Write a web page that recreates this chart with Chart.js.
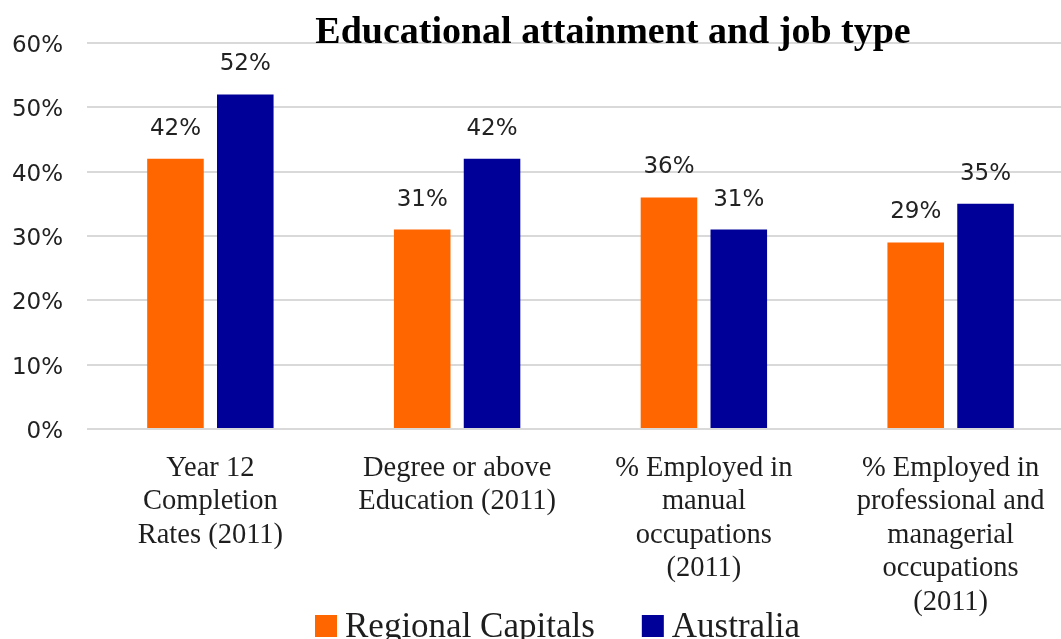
<!DOCTYPE html>
<html><head><meta charset="utf-8">
<script src="https://cdn.jsdelivr.net/npm/chart.js@4"></script>
<style>html,body{margin:0;padding:0;background:#fff;overflow:hidden}
#wrap{position:relative;width:1075px;height:639px}</style></head>
<body><div id="wrap"><canvas id="c" width="1075" height="639"></canvas></div>
<script>
const categories = [
  ["Year 12", "Completion", "Rates (2011)"],
  ["Degree or above", "Education (2011)"],
  ["% Employed in", "manual", "occupations", "(2011)"],
  ["% Employed in", "professional and", "managerial", "occupations", "(2011)"]
];
const seriesNames = ["Regional Capitals", "Australia"];
const regionalCapitals = [42, 31, 36, 29];
const australia = [52, 42, 31, 35];
const yTicks = [0, 10, 20, 30, 40, 50, 60];
const titleText = "Educational attainment and job type";

const SERIF = '"Liberation Serif", "Times New Roman", serif';
const SANS = '"DejaVu Sans", Verdana, sans-serif';
const seriesColors = ["#FF6600", "#000099"];

const decorations = {
  id: 'decorations',
  afterDatasetsDraw(chart) {
    const ctx = chart.ctx;
    ctx.save();
    ctx.font = '23px ' + SANS;
    ctx.fillStyle = '#222222';
    ctx.textAlign = 'center';
    ctx.textBaseline = 'alphabetic';
    chart.data.datasets.forEach((ds, di) => {
      const meta = chart.getDatasetMeta(di);
      meta.data.forEach((bar, i) => {
        ctx.fillText(ds.data[i] + '%', bar.x, bar.y - 24);
      });
    });
    ctx.restore();
  },
  afterDraw(chart) {
    const ctx = chart.ctx;
    ctx.save();
    // title
    ctx.font = 'bold 38px ' + SERIF;
    ctx.fillStyle = '#000';
    ctx.textAlign = 'center';
    ctx.textBaseline = 'alphabetic';
    ctx.fillText(titleText, 613, 43);
    // legend
    ctx.font = '35px ' + SERIF;
    ctx.textAlign = 'left';
    let x = 315;
    chart.data.datasets.forEach((ds, di) => {
      ctx.fillStyle = ds.backgroundColor;
      ctx.fillRect(x, 615, 22, 22);
      ctx.fillStyle = '#1e1e1e';
      ctx.fillText(ds.label, x + 30, 637);
      x += 30 + ctx.measureText(ds.label).width + 47;
    });
    ctx.restore();
  }
};

new Chart(document.getElementById('c'), {
  type: 'bar',
  data: {
    labels: categories,
    datasets: [
      { label: seriesNames[0], data: regionalCapitals, backgroundColor: seriesColors[0] },
      { label: seriesNames[1], data: australia, backgroundColor: seriesColors[1] }
    ]
  },
  options: {
    responsive: false,
    animation: false,
    devicePixelRatio: 1,
    categoryPercentage: 0.566,
    barPercentage: 0.81,
    layout: { padding: { top: 43, left: 0, right: 1, bottom: 0 } },
    plugins: {
      legend: { display: false },
      title: { display: false },
      tooltip: { enabled: false }
    },
    scales: {
      x: {
        grid: { display: false, drawTicks: false },
        border: { display: false },
        ticks: {
          autoSkip: false, maxRotation: 0, minRotation: 0,
          padding: 22.5, color: '#1e1e1e',
          font: { family: SERIF, size: 28.5, lineHeight: 1.175 }
        },
        afterFit(scale) { scale.height = 210; }
      },
      y: {
        min: 0, max: 60,
        grid: { color: '#d9d9d9', lineWidth: 2, drawTicks: false },
        border: { display: false },
        afterBuildTicks(scale) { scale.ticks = yTicks.map(v => ({ value: v })); },
        ticks: {
          padding: 24, labelOffset: 3, color: '#222222',
          font: { family: SANS, size: 23 },
          callback: v => v + '%'
        },
        afterFit(scale) { scale.width = 87; }
      }
    }
  },
  plugins: [decorations]
});
</script></body></html>
